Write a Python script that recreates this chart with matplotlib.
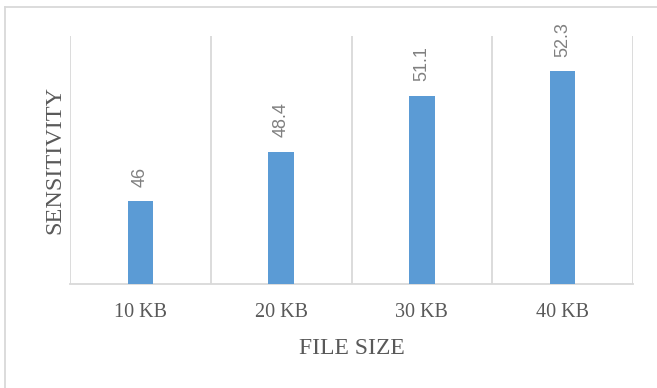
import matplotlib
matplotlib.use("Agg")
import matplotlib.pyplot as plt
from matplotlib.lines import Line2D

categories = ["10 KB", "20 KB", "30 KB", "40 KB"]
sensitivity = [46, 48.4, 51.1, 52.3]
value_labels = ["46", "48.4", "51.1", "52.3"]

W, H = 657, 388
fig = plt.figure(figsize=(W / 100, H / 100), dpi=100)
ax = fig.add_axes([70 / W, (H - 284) / H, (633 - 70) / W, (284 - 36) / H])

grid_col = "#d9d9d9"
text_col = "#595959"

x = list(range(len(categories)))
ax.bar(x, sensitivity, width=0.18, color="#5b9bd5", zorder=3)
ax.set_xlim(-0.5, len(categories) - 0.5)
ax.set_ylim(42, 54)

for xi, v, lab in zip(x, sensitivity, value_labels):
    ax.annotate(lab, (xi, v), xytext=(0, 10.5), textcoords="offset points",
                rotation=90, ha="center", va="bottom", fontsize=13,
                family="Liberation Sans", color="#808080")

# category separators
for b in [i - 0.5 for i in range(len(categories) + 1)]:
    ax.axvline(b, color=grid_col, lw=1.3, zorder=1)

for s in ["top", "right", "left"]:
    ax.spines[s].set_visible(False)
ax.spines["bottom"].set_color(grid_col)
ax.spines["bottom"].set_linewidth(1.3)

ax.set_yticks([])
ax.set_xticks(x)
ax.set_xticklabels(categories, family="Liberation Serif", fontsize=14.5, color=text_col)
ax.tick_params(axis="x", length=0, pad=14)

ax.set_xlabel("FILE SIZE", family="Liberation Serif", fontsize=17, color=text_col, labelpad=11)
ax.set_ylabel("SENSITIVITY", family="Liberation Serif", fontsize=17.5, color=text_col, labelpad=3)

# chart area border (only top/left visible in the crop)
fig.add_artist(Line2D([5 / W, 5 / W], [0, 1 - 7 / H], color=grid_col, lw=1.3))
fig.add_artist(Line2D([5 / W, 1], [1 - 7 / H, 1 - 7 / H], color=grid_col, lw=1.3))

fig.savefig("out.png", dpi=100)
